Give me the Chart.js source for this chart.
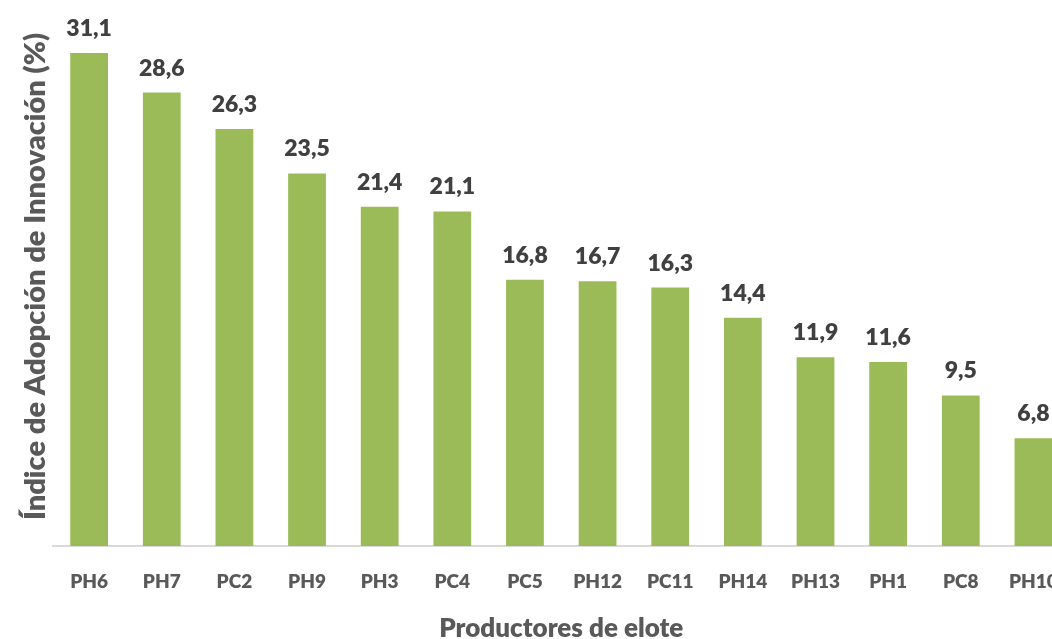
<!DOCTYPE html>
<html>
<head>
<meta charset="utf-8">
<script src="https://cdn.jsdelivr.net/npm/chart.js@4.4.0/dist/chart.umd.min.js"></script>
<style>
  html, body { margin: 0; padding: 0; background: #fff; overflow: hidden; }
  #wrap { width: 1052px; height: 639px; overflow: hidden; }
</style>
</head>
<body>
<div id="wrap">
  <canvas id="bar-chart" width="1074" height="639"></canvas>
</div>
<script>
const productores = ["PH6", "PH7", "PC2", "PH9", "PH3", "PC4", "PC5", "PH12", "PC11", "PH14", "PH13", "PH1", "PC8", "PH10"];
const indice = [31.1, 28.6, 26.3, 23.5, 21.4, 21.1, 16.8, 16.7, 16.3, 14.4, 11.9, 11.6, 9.5, 6.8];

const fuente = "Lato, 'Open Sans', sans-serif";

// etiquetas encima de cada barra (no hay plugin datalabels)
const etiquetas = {
  id: "etiquetas",
  afterDatasetsDraw(chart) {
    const ctx = chart.ctx;
    const meta = chart.getDatasetMeta(0);
    ctx.save();
    ctx.font = "800 23px " + fuente;
    ctx.fillStyle = "#404040";
    ctx.textAlign = "center";
    ctx.textBaseline = "bottom";
    meta.data.forEach((bar, i) => {
      const texto = indice[i].toFixed(1).replace(".", ",");
      ctx.fillText(texto, bar.x, bar.y - 13);
    });
    ctx.restore();
  }
};

const config = {
  type: "bar",
  data: {
    labels: productores,
    datasets: [{
      label: "Índice",
      data: indice,
      backgroundColor: "#9bbb59",
      barPercentage: 0.52,
      categoryPercentage: 1.0,
    }],
  },
  options: {
    responsive: false,
    animation: false,
    layout: {
      padding: { top: 7, left: 18, right: 4, bottom: 0 },
    },
    plugins: {
      legend: { display: false },
      tooltip: { enabled: false },
    },
    scales: {
      x: {
        grid: { display: false },
        border: { display: true, color: "#d9d9d9", width: 2 },
        ticks: {
          color: "#595959",
          font: { family: fuente, size: 19, weight: 800 },
          padding: 16,
          maxRotation: 0,
        },
        title: {
          display: true,
          text: "Productores de elote",
          color: "#595959",
          font: { family: fuente, size: 26, weight: 800 },
          padding: { top: 4, bottom: -5 },
        },
      },
      y: {
        min: 0,
        max: 34,
        grid: { display: false },
        border: { display: false },
        ticks: { display: false },
        title: {
          display: true,
          text: "Índice de Adopción de Innovación (%)",
          color: "#595959",
          font: { family: fuente, size: 29, weight: 800 },
          padding: { top: 0, bottom: -8 },
        },
      },
    },
  },
  plugins: [etiquetas],
};

const ctx = document.getElementById("bar-chart").getContext("2d");
const grafica = new Chart(ctx, config);
</script>
</body>
</html>
